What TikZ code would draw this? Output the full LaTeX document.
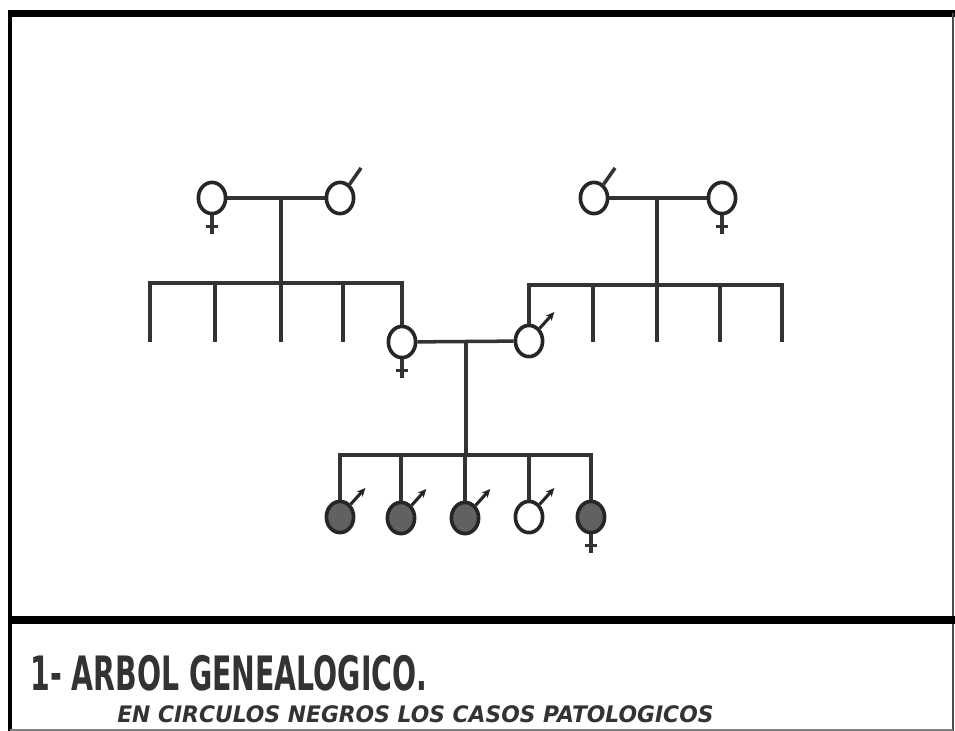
\documentclass[tikz,border=0pt]{standalone}
\usepackage{graphicx}
\usepackage{fontspec}
\setmainfont{DejaVu Sans}
\usetikzlibrary{shapes.geometric,arrows.meta}

\begin{document}
\begin{tikzpicture}[
    x=0.025cm, y=-0.025cm,
    person/.style={ellipse, draw=black!85, line width=2.6pt, minimum width=0.68cm, minimum height=0.78cm, inner sep=0pt, fill=white},
    sick/.style={person, fill=black!62},
    line/.style={draw=black!80, line width=2.5pt},
    marrow/.style={draw=black!85, line width=2.2pt, -{Stealth[length=6pt,width=5.5pt]}},
    caption/.style={anchor=base west, inner sep=0pt, text=black!80}
]
\useasboundingbox (0,0) rectangle (955,731);

% Frame and separator bar
\draw[line width=4.3pt] (8,13.5) -- (955,13.5);
\draw[line width=3.5pt] (10,11.5) -- (10,731);
\draw[line width=1.4pt, black!70] (953,13) -- (953,731);
\draw[line width=1pt, black!50] (10,730) -- (953,730);
\draw[line width=5.7pt] (10,619.5) -- (955,619.5);

% Row 1: grandparents
\node (gmA) [person] at (212,198) {};
\node (gfA) [person] at (340,198) {};
\node (gfB) [person] at (594,198) {};
\node (gmB) [person] at (722,198) {};

% Row 2: parents
\node (mother) [person] at (402,342) {};
\node (father) [person] at (529,341) {};

% Row 3: children
\node (c1) [sick] at (340,517) {};
\node (c2) [sick] at (401,518) {};
\node (c3) [sick] at (465,518) {};
\node (c4) [person] at (529,517) {};
\node (c5) [sick] at (591,517) {};

% Sibship bars and free ends
\coordinate (sibA) at (281,283);
\coordinate (sibB) at (657,285);
\coordinate (kids) at (466,455);
\foreach \x [count=\i] in {150,215,281,343}
  \coordinate (a\i) at (\x,342);
\foreach \x [count=\i] in {593,657,720,782}
  \coordinate (b\i) at (\x,342);

% Marriage lines
\draw[line] (gmA) -- (gfA);
\draw[line] (gfB) -- (gmB);
\draw[line] (mother) -- (father);

% Descent lines
\draw[line] (sibA) -- (sibA |- gmA);
\draw[line] (sibB) -- (sibB |- gmB);
\draw[line] (kids) -- (kids |- mother);
\foreach \i in {1,...,4}
  \draw[line] (sibA) -| (a\i);
\draw[line] (sibA) -| (mother);
\foreach \i in {1,...,4}
  \draw[line] (sibB) -| (b\i);
\draw[line] (sibB) -| (father);
\foreach \c in {c1,c2,c3,c4,c5}
  \draw[line] (kids) -| (\c);

% Sex marks
\foreach \p in {gmA,gmB,mother,c5} {
  \draw[line] (\p.south) -- ++(0,19);
  \draw[line] ([shift={(-6,11)}]\p.south) -- ++(12,0);
}
\foreach \p in {gfA,gfB}
  \draw[line] (\p.55) -- ++(-55:20);
\foreach \p in {father,c1,c2,c3,c4}
  \draw[marrow] (\p.50) -- ++(-48:22);

% Caption
\node (title) [caption] at (30,690) {\resizebox{282pt}{25pt}{\bfseries 1- ARBOL GENEALOGICO.}};
\node (note) [caption] at (117,722) {\resizebox{424pt}{12pt}{\bfseries\itshape EN CIRCULOS NEGROS LOS CASOS PATOLOGICOS}};

\end{tikzpicture}
\end{document}
